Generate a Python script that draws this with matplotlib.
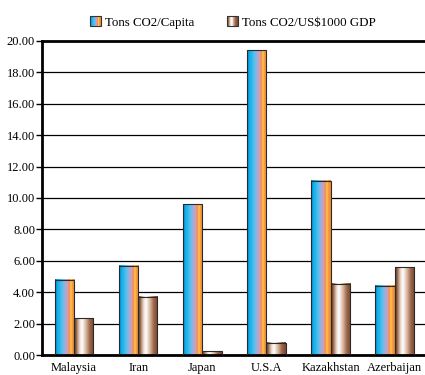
import numpy as np
import matplotlib
matplotlib.use("Agg")
import matplotlib.pyplot as plt
from matplotlib.colors import LinearSegmentedColormap
from matplotlib.patches import Rectangle
from matplotlib.legend_handler import HandlerBase

countries = ["Malaysia", "Iran", "Japan", "U.S.A", "Kazakhstan", "Azerbaijan"]
per_capita = [4.8, 5.7, 9.6, 19.4, 11.1, 4.4]
per_gdp = [2.35, 3.7, 0.25, 0.8, 4.55, 5.6]
series_names = ["Tons CO2/Capita", "Tons CO2/US$1000 GDP"]

plt.rcParams["font.family"] = ["Liberation Serif", "DejaVu Serif"]

cmap_a = LinearSegmentedColormap.from_list("a", [
    (0.0, "#17587a"), (0.08, "#00a9ea"), (0.35, "#4fc2ef"), (0.52, "#a9acd6"),
    (0.64, "#d2a0b8"), (0.72, "#f5874f"), (0.8, "#ffd23f"), (0.86, "#f89a4a"),
    (1.0, "#ee8a30")])
cmap_b = LinearSegmentedColormap.from_list("b", [
    (0.0, "#5a2e1e"), (0.1, "#8c5c42"), (0.28, "#ecdccc"), (0.4, "#ffffff"),
    (0.6, "#d8b8a0"), (0.8, "#9a6448"), (1.0, "#784630")])
grad = np.linspace(0, 1, 256).reshape(1, -1)


class GradHandler(HandlerBase):
    def __init__(self, cmap):
        super().__init__()
        self.cmap = cmap

    def create_artists(self, legend, orig_handle, xdescent, ydescent,
                       width, height, fontsize, trans):
        n = 12
        w = height / n
        arts = []
        for i in range(n):
            arts.append(Rectangle((-xdescent + i * w, -ydescent), w, height,
                                  facecolor=self.cmap((i + 0.5) / n),
                                  edgecolor="none", transform=trans))
        arts.append(Rectangle((-xdescent, -ydescent), height, height,
                              facecolor="none", edgecolor="#333333",
                              lw=0.8, transform=trans))
        return arts


fig = plt.figure(figsize=(4.25, 3.75), dpi=100)
ax = fig.add_axes([0.099, 0.053, 0.905, 0.838])

x = np.arange(len(countries))
w = 0.3
bars_a = ax.bar(x - w / 2, per_capita, w, facecolor="none",
                edgecolor="#2a2a2a", lw=0.8, zorder=3)
bars_b = ax.bar(x + w / 2, per_gdp, w, facecolor="none",
                edgecolor="#2a2a2a", lw=0.8, zorder=3)

for bars, cm in ((bars_a, cmap_a), (bars_b, cmap_b)):
    for r in bars:
        x0, bw, h = r.get_x(), r.get_width(), r.get_height()
        ax.imshow(grad, cmap=cm, extent=[x0, x0 + bw, 0, h],
                  aspect="auto", interpolation="bilinear", zorder=2)

ax.set_xlim(-0.5, len(countries) - 0.5)
ax.set_ylim(0, 20)
ax.set_yticks(np.arange(0, 20.01, 2))
ax.set_yticklabels([f"{v:.2f}" for v in np.arange(0, 20.01, 2)], fontsize=9)
ax.set_xticks(x)
ax.set_xticklabels(countries, fontsize=9)
ax.tick_params(axis="x", length=0, pad=5)
ax.tick_params(axis="y", length=4, width=1, color="black", pad=1)
ax.yaxis.grid(True, color="black", lw=0.9)
ax.set_axisbelow(True)
for s in ("left", "top", "bottom"):
    ax.spines[s].set_linewidth(2)
ax.spines["right"].set_visible(False)

h1 = Rectangle((0, 0), 1, 1)
h2 = Rectangle((0, 0), 1, 1)
fig.legend([h1, h2], series_names, loc="center", bbox_to_anchor=(0.548, 0.94),
           ncol=2, frameon=False, fontsize=9.3, handlelength=0.85,
           handleheight=0.85, handletextpad=0.25, columnspacing=2.6,
           handler_map={h1: GradHandler(cmap_a), h2: GradHandler(cmap_b)})

fig.savefig("out.png", dpi=100)
